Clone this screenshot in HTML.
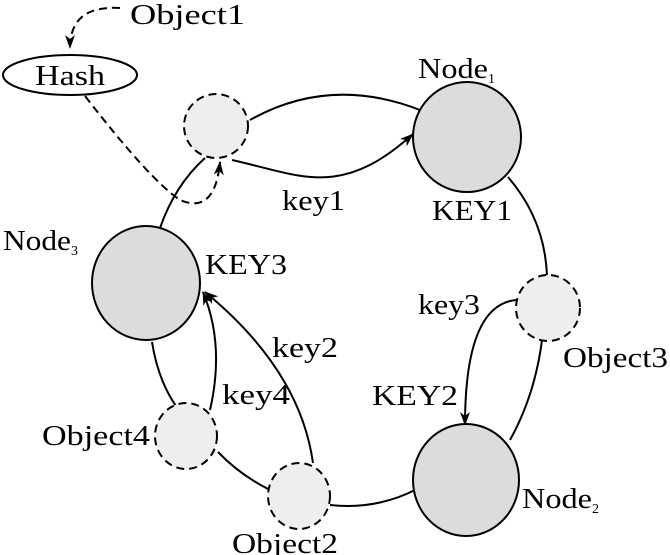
<!DOCTYPE html>
<html><head><style>body{margin:0;background:#fff}svg{display:block}text{font-family:"Liberation Serif",serif;font-size:28px;fill:#000}</style></head>
<body>
<svg width="670" height="555" viewBox="0 0 670 555">
<defs><marker id="a" markerWidth="14" markerHeight="10" refX="13" refY="5" orient="auto" markerUnits="userSpaceOnUse"><path d="M0,0 L14,5 L0,10 L4,5 Z" fill="#000"/></marker></defs>
<g fill="none" stroke="#000" stroke-width="2">
<path d="M250,120 Q330,75 420,110"/>
<path d="M232,160 C300,175 340,200 413,134" marker-end="url(#a)"/>
<path d="M508,177 Q545,220 547,276"/>
<path d="M542,340 Q535,395 510,440"/>
<path d="M516,300 Q465,305 465,425" marker-end="url(#a)"/>
<path d="M415,490 Q375,510 330,505"/>
<path d="M270,490 Q240,475 218,452"/>
<path d="M176,406 Q158,380 152,342"/>
<path d="M210,410 Q225,345 203,292" marker-end="url(#a)"/>
<path d="M313,463 Q300,370 205,292" marker-end="url(#a)"/>
<path d="M160,228 Q175,185 205,158"/>
<path d="M85,96 Q150,180 180,200 Q215,215 220,162" stroke-dasharray="8,5" marker-end="url(#a)"/>
<path d="M120,8 Q70,5 70,48" stroke-dasharray="8,5" marker-end="url(#a)"/>
</g>
<g stroke="#000" stroke-width="2">
<ellipse cx="70" cy="75" rx="67" ry="20" fill="#fff"/>
<ellipse cx="467" cy="137" rx="54" ry="55" fill="#dcdcdc"/>
<ellipse cx="146" cy="283" rx="54" ry="57" fill="#dcdcdc"/>
<ellipse cx="466" cy="480" rx="53" ry="56" fill="#dcdcdc"/>
<g fill="#eee" stroke-dasharray="8,5">
<circle cx="216" cy="126" r="32"/>
<ellipse cx="548" cy="308" rx="32" ry="33"/>
<ellipse cx="186" cy="436" rx="31" ry="33"/>
<ellipse cx="299" cy="496" rx="31" ry="33"/>
</g></g>
<g lengthAdjust="spacingAndGlyphs">
<text x="130" y="24" textLength="115" lengthAdjust="spacingAndGlyphs">Object1</text>
<text x="35" y="85" textLength="70" lengthAdjust="spacingAndGlyphs">Hash</text>
<text x="418" y="78"><tspan textLength="70" lengthAdjust="spacingAndGlyphs">Node</tspan><tspan font-size="14" dy="5">1</tspan></text>
<text x="432" y="220" textLength="80" lengthAdjust="spacingAndGlyphs">KEY1</text>
<text x="282" y="210" textLength="63" lengthAdjust="spacingAndGlyphs">key1</text>
<text x="3" y="250"><tspan textLength="68" lengthAdjust="spacingAndGlyphs">Node</tspan><tspan font-size="14" dy="5">3</tspan></text>
<text x="205" y="274" textLength="82" lengthAdjust="spacingAndGlyphs">KEY3</text>
<text x="418" y="314" textLength="62" lengthAdjust="spacingAndGlyphs">key3</text>
<text x="563" y="367" textLength="105" lengthAdjust="spacingAndGlyphs">Object3</text>
<text x="372" y="405" textLength="86" lengthAdjust="spacingAndGlyphs">KEY2</text>
<text x="522" y="508"><tspan textLength="70" lengthAdjust="spacingAndGlyphs">Node</tspan><tspan font-size="14" dy="5">2</tspan></text>
<text x="272" y="357" textLength="66" lengthAdjust="spacingAndGlyphs">key2</text>
<text x="222" y="404" textLength="68" lengthAdjust="spacingAndGlyphs">key4</text>
<text x="42" y="445" textLength="108" lengthAdjust="spacingAndGlyphs">Object4</text>
<text x="232" y="553" textLength="106" lengthAdjust="spacingAndGlyphs">Object2</text>
</g>
</svg>
</body></html>
